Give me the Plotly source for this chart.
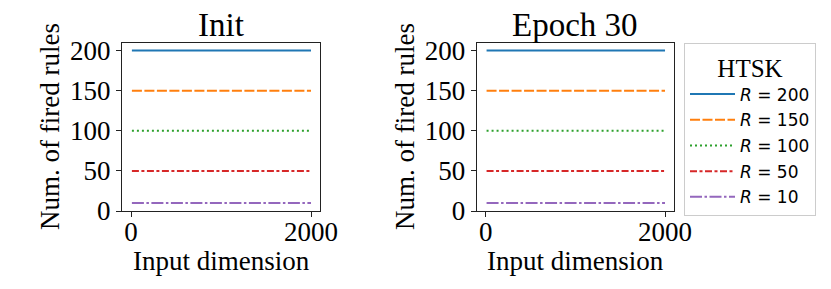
import plotly.graph_objects as go

dims = [10, 100, 500, 1000, 1500, 2000]
rule_counts = [200, 150, 100, 50, 10]
init_fired = {
    200: [200, 200, 200, 200, 200, 200],
    150: [150, 150, 150, 150, 150, 150],
    100: [100, 100, 100, 100, 100, 100],
    50: [50, 50, 50, 50, 50, 50],
    10: [10, 10, 10, 10, 10, 10],
}
epoch30_fired = {
    200: [200, 200, 200, 200, 200, 200],
    150: [150, 150, 150, 150, 150, 150],
    100: [100, 100, 100, 100, 100, 100],
    50: [50, 50, 50, 50, 50, 50],
    10: [10, 10, 10, 10, 10, 10],
}
panel_titles = ["Init", "Epoch 30"]
y_ticks = [0, 50, 100, 150, 200]
x_ticks = [0, 2000]

colors = ["#1f77b4", "#ff7f0e", "#2ca02c", "#d62728", "#9467bd"]
dashes = ["solid", "10px,2.5px", "2px,3px", "7px,2.5px,3px,2.5px", "12px,2.5px,2.5px,2.5px"]

W, H = 831, 289
fig = go.Figure()

panels = [init_fired, epoch30_fired]
for p, data in enumerate(panels):
    xa = "x" if p == 0 else "x2"
    ya = "y" if p == 0 else "y2"
    for i, r in enumerate(rule_counts):
        fig.add_trace(go.Scatter(
            x=dims, y=data[r], mode="lines",
            line=dict(color=colors[i], width=2, dash=dashes[i]),
            name=f"<i>R</i> = {r}", legendgroup=str(r),
            showlegend=(p == 0), xaxis=xa, yaxis=ya,
        ))

serif = "Liberation Serif, Times New Roman, serif"
dom_y = [(H - 211) / H, (H - 43) / H]
doms_x = [[122 / W, 320 / W], [476.7 / W, 674 / W]]

axis_common = dict(
    showgrid=False, zeroline=False, showline=True, linecolor="#222", linewidth=1,
    mirror=True, ticks="outside", ticklen=5, tickwidth=1, tickcolor="#222",
    tickfont=dict(family=serif, size=27, color="black"), automargin=False,
)
for p in range(2):
    sx = "" if p == 0 else "2"
    fig.update_layout(**{
        f"xaxis{sx}": dict(domain=doms_x[p], range=[-100, 2100], tickvals=x_ticks,
                           anchor=f"y{sx}", ticklabelstandoff=-8, **axis_common),
        f"yaxis{sx}": dict(domain=dom_y, range=[0, 209.5], tickvals=y_ticks,
                           anchor=f"x{sx}", **axis_common),
    })
    cx = (doms_x[p][0] + doms_x[p][1]) / 2
    fig.add_annotation(text=panel_titles[p], x=cx, y=(H - 25) / H, xref="paper", yref="paper",
                       showarrow=False, xanchor="center", yanchor="middle",
                       font=dict(family=serif, size=33, color="black"))
    fig.add_annotation(text="Input dimension", x=cx, y=(H - 261) / H, xref="paper", yref="paper",
                       showarrow=False, xanchor="center", yanchor="middle",
                       font=dict(family=serif, size=27, color="black"))
    ylx = 50 if p == 0 else 405
    fig.add_annotation(text="Num. of fired rules", x=ylx / W, y=(H - 127) / H, xref="paper", yref="paper",
                       showarrow=False, xanchor="center", yanchor="middle", textangle=-90,
                       font=dict(family=serif, size=27, color="black"))

fig.update_layout(
    width=W, height=H, margin=dict(l=0, r=0, t=0, b=0, autoexpand=False),
    paper_bgcolor="white", plot_bgcolor="white",
    legend=dict(
        x=684 / W, y=(H - 43) / H, xanchor="left", yanchor="top",
        bgcolor="white", bordercolor="#cccccc", borderwidth=1,
        font=dict(family="DejaVu Sans, sans-serif", size=17, color="black"),
        title=dict(text="HTSK", side="top center", font=dict(family=serif, size=25, color="black")),
        itemwidth=45, tracegroupgap=0.6,
    ),
)

fig.write_html(
    "out.html",
    config={"displayModeBar": False},
    post_script="document.body.style.margin='0';document.body.style.overflow='hidden';",
)
